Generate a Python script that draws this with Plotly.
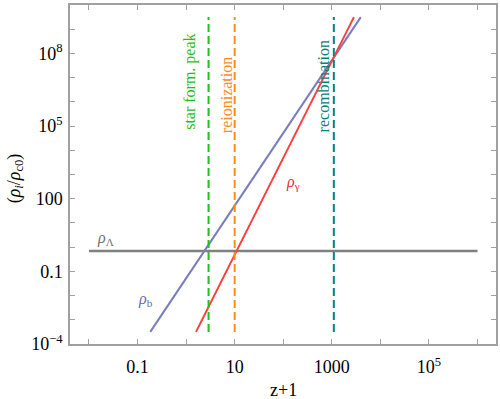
import plotly.graph_objects as go

# densities relative to critical density today vs (z+1)
rho_lambda_x = [0.01, 1.0e6]
rho_lambda_y = [0.69, 0.69]
rho_b_x = [0.183, 3950]
rho_b_y = [3.16e-4, 3.16e9]
rho_gamma_x = [1.6, 2850]
rho_gamma_y = [3.16e-4, 3.16e9]

# epoch markers (z+1)
epochs = ['star form. peak', 'reionization', 'recombination']
epoch_x = [2.9, 10, 1100]
epoch_y = [3.16e-4, 3.16e9]
epoch_colors = ['#1fbf1f', '#ff8c1a', '#0a8080']

x_tickvals = [0.01, 0.1, 1, 10, 100, 1000, 1e4, 1e5, 1e6]
x_ticktext = ['', '0.1', '', '10', '', '1000', '', '10<sup>5</sup>', '']
y_tickvals = [10.0 ** k for k in range(-4, 11)]
y_ticktext = ['10<sup>\u22124</sup>', '', '', '0.1', '', '', '100', '', '',
              '10<sup>5</sup>', '', '', '10<sup>8</sup>', '', '']

fig = go.Figure()
fig.add_trace(go.Scatter(x=rho_lambda_x, y=rho_lambda_y, mode='lines',
                         line=dict(color='#808080', width=2.5)))
fig.add_trace(go.Scatter(x=rho_b_x, y=rho_b_y, mode='lines',
                         line=dict(color='#7b7bc0', width=2)))
fig.add_trace(go.Scatter(x=rho_gamma_x, y=rho_gamma_y, mode='lines',
                         line=dict(color='#ff4040', width=2)))
for name, xv, col in zip(epochs, epoch_x, epoch_colors):
    fig.add_trace(go.Scatter(x=[xv, xv], y=epoch_y, mode='lines', name=name,
                             line=dict(color=col, width=2, dash='8px,4px')))

serif = 'Liberation Serif, Times New Roman, serif'
label_pos = [(0.283, 0.772), (0.367, 0.735), (0.594, 0.760)]
annotations = []
for name, col, (px, py) in zip(epochs, epoch_colors, label_pos):
    annotations.append(dict(text=name, x=px, y=py, textangle=-90,
                            font=dict(family=serif, size=16, color=col)))
annotations += [
    dict(text='<i>\u03c1</i><sub>\u03b3</sub>', x=0.524, y=0.475,
         font=dict(family=serif, size=16, color='#e03030')),
    dict(text='<i>\u03c1</i><sub>\u039b</sub>', x=0.083, y=0.31,
         font=dict(family=serif, size=16, color='#707070')),
    dict(text='<i>\u03c1</i><sub>b</sub>', x=0.177, y=0.13,
         font=dict(family=serif, size=16, color='#6a6ab0')),
    # axis titles
    dict(text='z+1', x=0.5, y=-0.135,
         font=dict(family=serif, size=18, color='black')),
    dict(text='(<i>\u03c1<sub>i</sub></i>/<i>\u03c1</i><sub>c0</sub>)', x=-0.128, y=0.49,
         textangle=-90, font=dict(family=serif, size=18, color='black')),
]
for a in annotations:
    a.update(xref='paper', yref='paper', showarrow=False,
             xanchor='center', yanchor='middle')

axis_style = dict(type='log', showline=True, linecolor='#a0a0a0', linewidth=1.5,
                  mirror='ticks', ticks='inside', ticklen=5, tickcolor='#a0a0a0',
                  showgrid=False, zeroline=False, automargin=False,
                  tickfont=dict(family=serif, size=18, color='black'))

fig.update_layout(
    width=500, height=399,
    margin=dict(l=70, r=4, t=5, b=55),
    paper_bgcolor='white', plot_bgcolor='white',
    showlegend=False,
    annotations=annotations,
    xaxis=dict(axis_style, range=[-2.39, 6.38], tickvals=x_tickvals, ticktext=x_ticktext,
               ticklabelstandoff=6),
    yaxis=dict(axis_style, range=[-4, 10], tickvals=y_tickvals, ticktext=y_ticktext,
               ticklabelstandoff=2),
)

# drop the default page margin so the figure sits at the window's corner
fig.write_html('out.html', config={'displayModeBar': False},
               post_script="document.body.style.margin='0';")
